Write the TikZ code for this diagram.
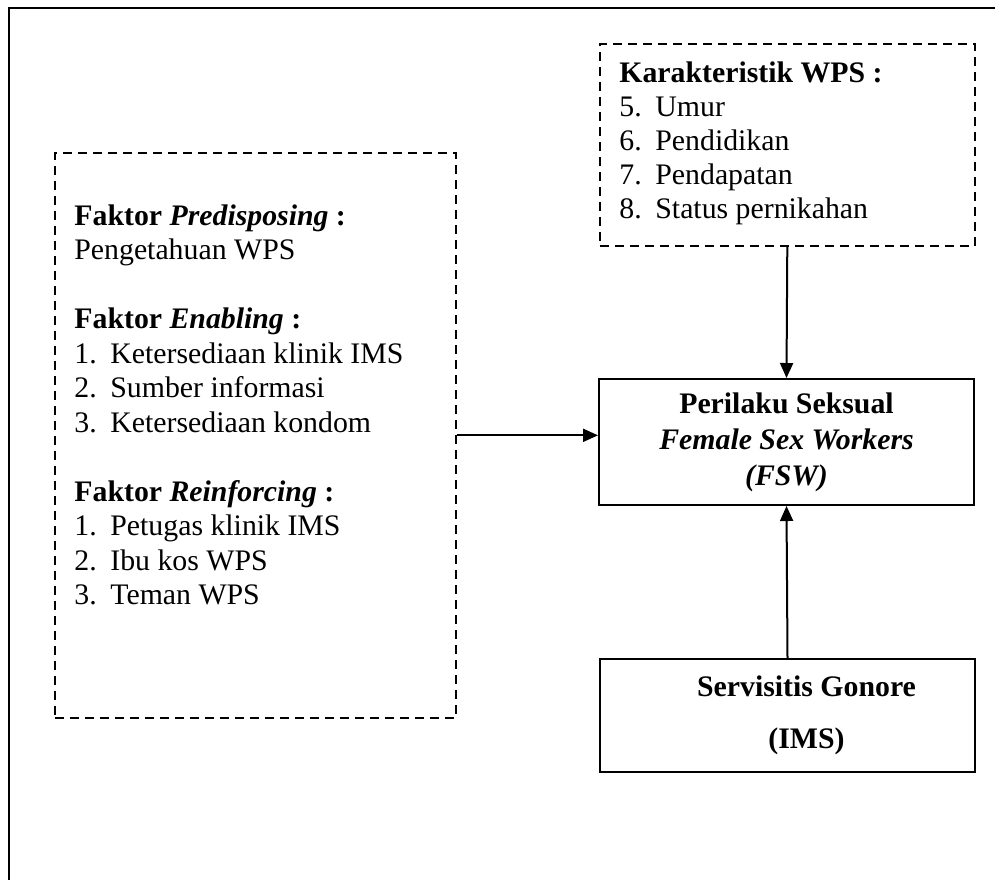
\documentclass[tikz,border=0pt]{standalone}
\usepackage{fontspec}
\setmainfont{Liberation Serif}
\usetikzlibrary{positioning}
\usetikzlibrary{arrows.meta}

\newcommand{\nomor}[1]{\makebox[18pt][l]{#1}}

\begin{document}
\begin{tikzpicture}[x=0.5pt,y=-0.5pt,
                    font=\fontsize{14.9}{17.25}\selectfont,
                    dashbox/.style={draw,dash pattern=on 4.5pt off 3pt,line width=0.8pt,inner sep=0pt},
                    solidbox/.style={draw,line width=1pt,inner sep=0pt,align=center},
                    isi/.style={inner sep=0pt,align=left},
                    panah/.style={line width=1pt,-{Triangle[length=7.5pt,width=6.5pt]}}]
 \useasboundingbox (0,0) rectangle (995,880);
 % bingkai luar
 \draw[line width=1.4pt] (9,880) -- (9,8) -- (995,8);

 \node (faktor) [dashbox, minimum width=200.5pt, minimum height=282.5pt,
                 anchor=north west] at (54,152) {};
 \node (faktor-isi) [isi, below right=26pt and 10pt of faktor.north west]
   {\textbf{Faktor \textit{Predisposing} :}\\
    Pengetahuan WPS\\[17.25pt]
    \textbf{Faktor \textit{Enabling} :}\\
    \nomor{1.}Ketersediaan klinik IMS\\
    \nomor{2.}Sumber informasi\\
    \nomor{3.}Ketersediaan kondom\\[17.25pt]
    \textbf{Faktor \textit{Reinforcing} :}\\
    \nomor{1.}Petugas klinik IMS\\
    \nomor{2.}Ibu kos WPS\\
    \nomor{3.}Teman WPS};

 \node (karakter) [dashbox, minimum width=187.5pt, minimum height=101pt,
                   anchor=north west] at (599,43) {};
 \node (karakter-isi) [isi, below right=9pt and 10pt of karakter.north west,
                       font=\fontsize{14.9}{17}\selectfont]
   {\textbf{Karakteristik WPS :}\\
    \nomor{5.}Umur\\
    \nomor{6.}Pendidikan\\
    \nomor{7.}Pendapatan\\
    \nomor{8.}Status pernikahan};

 \node (perilaku) [solidbox, minimum width=187.5pt, minimum height=63pt,
                   font=\fontsize{14.9}{18}\selectfont\bfseries] at (786.5,442)
   {Perilaku Seksual\\ \textit{Female Sex Workers}\\ \textit{(FSW)}};

 \node (servisitis) [solidbox, minimum width=187.5pt, minimum height=56.5pt,
                     font=\fontsize{14.9}{26}\selectfont\bfseries] at (787.5,715.5)
   {\hspace*{19pt}Servisitis Gonore\\ \hspace*{19pt}(IMS)};

 \draw[panah] (karakter.south) -- (perilaku.north);
 \draw[panah] (servisitis.north) -- (perilaku.south);
 \draw[panah] (faktor.east) -- (faktor.east -| perilaku.west);
\end{tikzpicture}
\end{document}
